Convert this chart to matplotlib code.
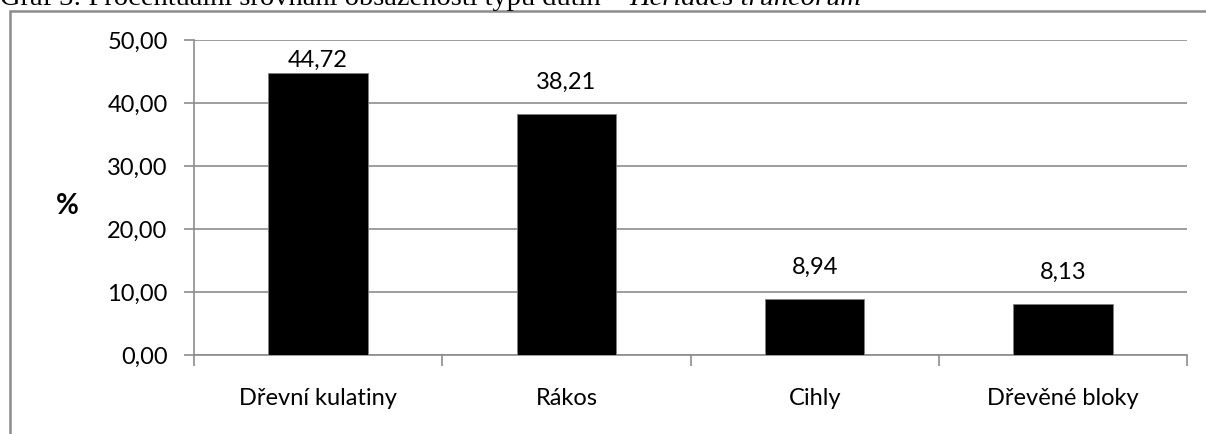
import matplotlib.pyplot as plt
import matplotlib.patches as patches
from matplotlib.ticker import FixedLocator, FuncFormatter

categories = ['Dřevní kulatiny', 'Rákos', 'Cihly', 'Dřevěné bloky']
values = [44.72, 38.21, 8.94, 8.13]
yticks = [0, 10, 20, 30, 40, 50]

W, H = 1206, 434
grid_col = '#8c8c8c'
font = ['Lato', 'DejaVu Sans']

plt.rcParams['font.family'] = font

fig = plt.figure(figsize=(W / 100, H / 100), dpi=100)
ax = fig.add_axes([194 / W, 1 - 355 / H, (1187 - 194) / W, (355 - 40) / H])

x = list(range(len(categories)))
ax.bar(x, values, width=0.4, color='black', edgecolor='#7f7f7f', linewidth=0.6, zorder=3)

ax.set_xlim(-0.5, len(categories) - 0.5)
ax.set_ylim(0, 50)

# value labels, kept inside the plot area like Excel does
for xi, v in zip(x, values):
    ly = min(v + 5.0, 46.8)
    ax.text(xi, ly, f'{v:.2f}'.replace('.', ','), ha='center', va='center',
            fontsize=17, color='black', zorder=4)

ax.set_yticks(yticks)
ax.yaxis.set_major_formatter(FuncFormatter(lambda v, p: f'{v:.2f}'.replace('.', ',')))
ax.grid(axis='y', color=grid_col, linewidth=1.2, zorder=0)

ax.set_xticks(x)
ax.set_xticklabels(categories)
ax.xaxis.set_minor_locator(FixedLocator([i - 0.5 for i in range(len(categories) + 1)]))
ax.tick_params(axis='x', which='major', length=0, pad=24, labelsize=17)
ax.tick_params(axis='x', which='minor', length=8, width=1.2, color=grid_col)
ax.tick_params(axis='y', length=7, width=1.2, color=grid_col, pad=12, labelsize=17)

for s in ['top', 'right']:
    ax.spines[s].set_visible(False)
for s in ['left', 'bottom']:
    ax.spines[s].set_color(grid_col)
    ax.spines[s].set_linewidth(1.2)

fig.text(67 / W, 1 - 206 / H, '%', fontsize=20, fontweight='bold', ha='center', va='center')

# chart frame
fig.patches.append(patches.Rectangle((10 / W, -0.1), 1.2, 1.1 - 11 / H, transform=fig.transFigure,
                                     fill=False, edgecolor=grid_col, linewidth=1.8))

# title, cut off at the top in the reference
t1 = fig.text(0.0, 1 - 5 / H, 'Graf 3: Procentuální srovnání obsazenosti typů dutin – ',
              family='Liberation Serif', fontsize=20.5, ha='left', va='baseline')
fig.canvas.draw()
bb = t1.get_window_extent()
fig.text(bb.x1 / W, 1 - 5 / H, 'Heriades truncorum', family='Liberation Serif', style='italic',
         fontsize=20.5, ha='left', va='baseline')

fig.savefig('out.png', dpi=100)
